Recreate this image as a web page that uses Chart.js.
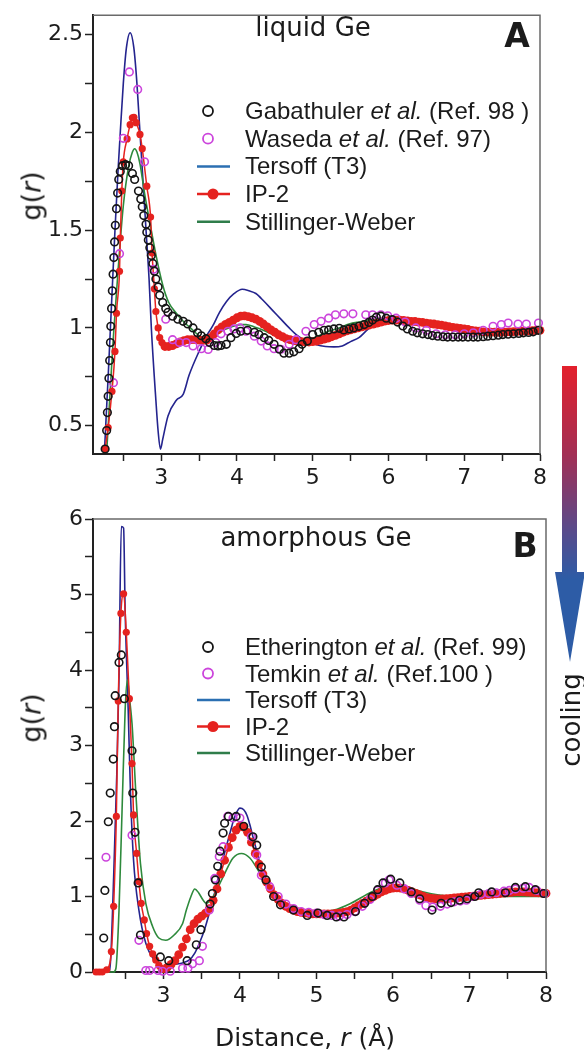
<!DOCTYPE html>
<html><head><meta charset="utf-8">
<script src="https://cdn.jsdelivr.net/npm/chart.js@4.4.1/dist/chart.umd.min.js"></script>
<style>
html,body{margin:0;padding:0;background:#fff;}
#wrap{position:relative;width:584px;height:1055px;overflow:hidden;background:#fff;}
canvas{position:absolute;left:0;}
.t{position:absolute;white-space:nowrap;line-height:1;color:#1b1b1b;}
.c{transform:translate(-50%,-50%);}
.lg{font-family:"Liberation Sans",Arial,sans-serif;font-size:24px;transform:translateY(-50%);}
.dv{font-family:"DejaVu Sans",sans-serif;}
.rot{transform:translate(-50%,-50%) rotate(-90deg);}
.bold{font-weight:bold;}
#arrow{position:absolute;left:555px;top:366px;width:30px;height:296px;
 background:linear-gradient(to bottom,#e3202c 0%,#a22f55 30%,#5a4a8a 55%,#2d5ca6 72%,#2d5ca6 100%);
 clip-path:polygon(7px 0,22px 0,22px 206px,30px 206px,15px 296px,0 206px,7px 206px);}
</style></head>
<body><div id="wrap">
<canvas id="cA" width="584" height="500" style="top:0"></canvas>
<canvas id="cB" width="584" height="555" style="top:500px"></canvas>
<div class="t dv c" style="left:313px;top:27px;font-size:26px">liquid Ge</div>
<div class="t dv c bold" style="left:517px;top:35px;font-size:33px">A</div>
<div class="t dv c" style="left:316px;top:537px;font-size:26px">amorphous Ge</div>
<div class="t dv c bold" style="left:525px;top:545px;font-size:33px">B</div>
<div class="t dv rot" style="left:31px;top:196px;font-size:27px">g(<i>r</i>)</div>
<div class="t dv rot" style="left:31px;top:718px;font-size:27px">g(<i>r</i>)</div>
<div class="t dv c" style="left:305px;top:1037px;font-size:25px">Distance, <i>r</i> (Å)</div>
<div id="arrow"></div>
<div class="t dv rot" style="left:571px;top:720px;font-size:26px">cooling</div>
<div id="legends"></div>
</div>
<script>
// ---------------- DATA ----------------
const xTicks = [2.5,3,3.5,4,4.5,5,5.5,6,6.5,7,7.5,8];
const xTickLabels = ['3','4','5','6','7','8'];
const yTicksA = [0.5,0.75,1,1.25,1.5,1.75,2,2.25,2.5];
const yTickLabelsA = ['0.5','1','1.5','2','2.5'];
const yTicksB = [0,0.5,1,1.5,2,2.5,3,3.5,4,4.5,5,5.5,6];
const yTickLabelsB = ['0','1','2','3','4','5','6'];

// Panel A: liquid Ge
const gabX = [2.26,2.28,2.29,2.30,2.31,2.32,2.33,2.335,2.345,2.355,2.365,2.375,2.385,2.395,2.41,2.425,2.44,2.46,2.49,2.53,2.57,2.62,2.65,2.70,2.73,2.75,2.77,2.80,2.81,2.83,2.85,2.87,2.89,2.91,2.93,2.96,2.98,3.02,3.06,3.09,3.15,3.22,3.29,3.35,3.42,3.48,3.53,3.59,3.64,3.70,3.75,3.79,3.86,3.92,3.99,4.05,4.14,4.23,4.29,4.36,4.42,4.49,4.56,4.62,4.69,4.75,4.82,4.86,4.93,5.00,5.08,5.15,5.21,5.28,5.35,5.41,5.48,5.54,5.61,5.68,5.74,5.79,5.84,5.90,5.97,6.05,6.12,6.19,6.25,6.32,6.38,6.45,6.52,6.58,6.65,6.72,6.78,6.85,6.92,6.98,7.05,7.12,7.18,7.25,7.31,7.38,7.45,7.51,7.58,7.65,7.72,7.78,7.85,7.91,7.98];
const gabY = [0.38,0.475,0.567,0.65,0.742,0.833,0.925,1.008,1.10,1.19,1.275,1.36,1.44,1.525,1.61,1.69,1.76,1.80,1.83,1.835,1.83,1.79,1.76,1.70,1.66,1.62,1.575,1.53,1.49,1.45,1.41,1.37,1.33,1.29,1.25,1.21,1.167,1.13,1.10,1.08,1.06,1.045,1.034,1.02,1.0,0.975,0.96,0.945,0.925,0.91,0.908,0.91,0.916,0.95,0.972,0.983,0.988,0.978,0.966,0.95,0.936,0.916,0.891,0.871,0.871,0.878,0.894,0.916,0.933,0.966,0.978,0.988,0.99,0.995,0.998,0.99,0.995,1.0,1.008,1.017,1.028,1.04,1.055,1.06,1.05,1.042,1.03,1.01,0.995,0.983,0.975,0.97,0.966,0.961,0.958,0.955,0.953,0.953,0.953,0.953,0.953,0.953,0.953,0.955,0.958,0.96,0.963,0.966,0.968,0.97,0.972,0.975,0.977,0.98,0.988];

const wasX = [2.37,2.45,2.50,2.58,2.69,2.78,2.90,3.06,3.15,3.24,3.33,3.42,3.53,3.62,3.72,3.79,3.88,3.96,4.04,4.12,4.23,4.32,4.40,4.49,4.58,4.69,4.78,4.91,5.02,5.11,5.21,5.30,5.41,5.53,5.70,5.79,5.90,5.99,6.10,6.22,6.36,6.50,6.63,6.75,6.88,7.00,7.12,7.25,7.38,7.49,7.58,7.71,7.82,7.98];
const wasY = [0.72,1.38,1.97,2.31,2.22,1.85,1.30,1.045,0.94,0.925,0.925,0.908,0.894,0.89,0.925,0.97,0.983,0.995,1.0,0.983,0.958,0.933,0.908,0.894,0.891,0.916,0.94,0.983,1.017,1.034,1.05,1.067,1.072,1.072,1.067,1.067,1.067,1.062,1.05,1.03,1.0,0.988,0.97,0.965,0.965,0.97,0.975,0.988,1.008,1.017,1.025,1.02,1.02,1.025];

const terAX = [2.25,2.30,2.33,2.36,2.39,2.43,2.46,2.50,2.54,2.59,2.64,2.68,2.72,2.76,2.80,2.84,2.87,2.93,2.96,2.99,3.02,3.09,3.20,3.29,3.37,3.50,3.60,3.68,3.77,3.86,3.96,4.07,4.16,4.25,4.36,4.47,4.58,4.69,4.80,4.91,5.04,5.17,5.28,5.39,5.50,5.61,5.72,5.83,5.95,6.10,6.30,6.50,6.70,6.90,7.10,7.30,7.50,7.70,8.00];
const terAY = [0.36,0.75,1.0,1.25,1.5,1.8,2.0,2.25,2.43,2.51,2.43,2.25,2.0,1.75,1.5,1.25,1.0,0.63,0.47,0.38,0.43,0.55,0.63,0.66,0.76,0.88,0.96,1.01,1.08,1.134,1.175,1.198,1.19,1.176,1.135,1.09,1.045,1.0,0.96,0.933,0.915,0.905,0.903,0.908,0.93,0.95,0.99,1.025,1.04,1.04,1.03,1.015,1.0,0.99,0.985,0.985,0.99,0.995,1.0];

const swAX = [2.28,2.33,2.37,2.43,2.50,2.57,2.62,2.65,2.68,2.72,2.78,2.85,2.93,3.02,3.10,3.20,3.30,3.40,3.50,3.55,3.63,3.72,3.83,3.94,4.05,4.12,4.23,4.34,4.45,4.56,4.65,4.73,4.84,4.95,5.08,5.21,5.35,5.48,5.61,5.79,5.95,6.10,6.30,6.50,6.70,6.90,7.10,7.30,7.50,7.70,8.00];
const swAY = [0.36,0.70,0.96,1.29,1.625,1.825,1.90,1.917,1.90,1.84,1.69,1.54,1.375,1.22,1.13,1.075,1.03,0.995,0.96,0.95,0.955,0.966,0.99,1.008,1.017,1.017,1.005,0.99,0.97,0.95,0.94,0.933,0.935,0.94,0.96,0.983,1.0,1.02,1.03,1.04,1.045,1.04,1.03,1.02,1.01,1.0,0.99,0.985,0.985,0.99,0.995];

// IP-2 sample positions of the dense band (both panels)
const ipBandX = [3.05,3.10,3.15,3.20,3.25,3.30,3.35,3.40,3.45,3.50,3.55,3.60,3.65,3.70,3.75,3.80,3.85,3.90,3.95,4.00,4.05,4.10,4.15,4.20,4.25,4.30,4.35,4.40,4.45,4.50,4.55,4.60,4.65,4.70,4.75,4.80,4.85,4.90,4.95,5.00,5.05,5.10,5.15,5.20,5.25,5.30,5.35,5.40,5.45,5.50,5.55,5.60,5.65,5.70,5.75,5.80,5.85,5.90,5.95,6.00,6.05,6.10,6.15,6.20,6.25,6.30,6.35,6.40,6.45,6.50,6.55,6.60,6.65,6.70,6.75,6.80,6.85,6.90,6.95,7.00,7.05,7.10,7.15,7.20,7.25,7.30,7.35,7.40,7.45,7.50,7.55,7.60,7.65,7.70,7.75,7.80,7.85,7.90,7.95,8.00];

const ipAPeakX = [2.26,2.30,2.35,2.39,2.41,2.45,2.46,2.48,2.50,2.55,2.59,2.62,2.64,2.67,2.72,2.75,2.81,2.86,2.88,2.91,2.93,2.96,2.98,3.01];
const ipAPeakY = [0.383,0.49,0.675,0.88,1.075,1.29,1.46,1.70,1.85,1.967,2.04,2.075,2.078,2.05,1.99,1.917,1.725,1.567,1.383,1.20,1.084,1.0,0.95,0.925];
const ipABandY = [0.905,0.905,0.91,0.918,0.928,0.935,0.94,0.94,0.94,0.938,0.936,0.937,0.95,0.97,0.99,1.005,1.018,1.028,1.04,1.052,1.06,1.062,1.058,1.052,1.045,1.033,1.02,1.005,0.99,0.978,0.965,0.955,0.945,0.94,0.935,0.932,0.93,0.928,0.928,0.93,0.933,0.938,0.943,0.948,0.955,0.962,0.97,0.978,0.985,0.99,0.995,1.0,1.005,1.01,1.015,1.02,1.025,1.03,1.035,1.038,1.04,1.04,1.04,1.038,1.036,1.034,1.033,1.03,1.028,1.025,1.022,1.02,1.017,1.014,1.01,1.006,1.003,1.0,0.997,0.995,0.992,0.988,0.985,0.983,0.98,0.979,0.978,0.978,0.978,0.978,0.979,0.98,0.981,0.982,0.983,0.984,0.985,0.986,0.987,0.988];

// Panel B: amorphous Ge
const ethX = [2.22,2.235,2.28,2.305,2.345,2.36,2.37,2.42,2.45,2.49,2.59,2.60,2.63,2.67,2.70,2.96,3.07,3.31,3.43,3.49,3.61,3.64,3.68,3.71,3.74,3.78,3.80,3.85,3.95,4.05,4.17,4.22,4.28,4.34,4.44,4.53,4.70,4.88,5.02,5.14,5.26,5.36,5.51,5.63,5.73,5.80,5.87,5.97,6.09,6.24,6.35,6.51,6.63,6.76,6.87,6.97,7.07,7.12,7.29,7.47,7.60,7.73,7.86,7.97];
const ethY = [0.45,1.08,1.99,2.37,2.82,3.25,3.66,4.10,4.20,3.62,2.93,2.37,1.85,1.18,0.49,0.20,0.15,0.15,0.36,0.56,0.90,1.04,1.22,1.40,1.60,1.84,1.97,2.06,2.06,1.93,1.79,1.68,1.39,1.22,1.00,0.89,0.82,0.75,0.78,0.75,0.73,0.73,0.80,0.91,1.00,1.09,1.18,1.23,1.18,1.06,0.97,0.82,0.91,0.92,0.95,0.97,1.00,1.05,1.06,1.05,1.12,1.13,1.09,1.04];

const temX = [2.25,2.59,2.68,2.77,2.82,2.93,2.99,3.09,3.25,3.32,3.38,3.47,3.51,3.60,3.67,3.73,3.78,3.84,3.91,4.00,4.15,4.22,4.28,4.39,4.50,4.60,4.70,4.80,4.90,5.00,5.10,5.20,5.30,5.40,5.50,5.60,5.70,5.80,5.90,5.95,6.05,6.15,6.24,6.35,6.43,6.52,6.62,6.71,6.80,6.88,6.96,7.05,7.15,7.25,7.35,7.45,7.52,7.60,7.70,7.78,7.88,7.98];
const temY = [1.52,1.81,0.42,0.02,0.02,0.02,0.01,0.01,0.05,0.05,0.11,0.15,0.34,0.82,1.24,1.53,1.66,2.06,2.04,2.04,1.79,1.55,1.28,1.13,1.00,0.90,0.84,0.80,0.79,0.78,0.76,0.75,0.74,0.76,0.80,0.87,0.96,1.08,1.18,1.22,1.15,1.10,1.04,0.95,0.88,0.86,0.87,0.90,0.93,0.94,0.95,1.00,1.03,1.04,1.05,1.07,1.08,1.10,1.11,1.12,1.08,1.04];

const terBX = [2.08,2.28,2.31,2.35,2.39,2.42,2.45,2.48,2.50,2.54,2.57,2.61,2.68,2.77,2.88,2.99,3.14,3.25,3.34,3.41,3.47,3.54,3.60,3.67,3.73,3.80,3.87,3.93,4.00,4.05,4.09,4.13,4.17,4.22,4.26,4.33,4.39,4.48,4.57,4.68,4.79,4.95,5.10,5.25,5.36,5.47,5.58,5.72,5.85,5.97,6.07,6.17,6.30,6.45,6.60,6.75,6.90,7.10,7.30,7.50,7.70,7.90,8.00];
const terBY = [0.0,0.0,0.16,1.26,2.59,3.91,5.90,5.88,4.79,3.47,2.37,1.48,0.82,0.38,0.16,0.07,0.10,0.12,0.16,0.25,0.38,0.57,0.78,1.05,1.31,1.58,1.84,2.05,2.17,2.15,2.08,1.95,1.79,1.60,1.44,1.26,1.13,1.00,0.91,0.85,0.80,0.77,0.755,0.76,0.78,0.84,0.91,1.00,1.08,1.13,1.15,1.12,1.05,0.98,0.95,0.96,0.99,1.02,1.05,1.06,1.07,1.05,1.04];

const swBX = [2.08,2.35,2.38,2.42,2.46,2.50,2.53,2.56,2.59,2.64,2.70,2.77,2.86,2.94,3.03,3.14,3.25,3.30,3.36,3.41,3.46,3.52,3.56,3.65,3.78,3.91,4.02,4.13,4.26,4.39,4.57,4.79,5.01,5.23,5.45,5.72,5.90,6.05,6.20,6.40,6.60,6.80,7.00,7.30,7.60,8.00];
const swBY = [0.0,0.0,0.05,0.82,2.15,3.47,3.87,3.60,3.29,2.37,1.44,0.91,0.60,0.45,0.42,0.49,0.64,0.82,1.00,1.10,1.05,0.95,0.91,1.00,1.26,1.51,1.57,1.51,1.31,1.09,0.91,0.82,0.80,0.82,0.91,1.06,1.13,1.15,1.12,1.06,1.02,1.00,0.995,1.00,1.00,1.00];

const ipBPeakX = [2.12,2.16,2.20,2.26,2.32,2.35,2.385,2.41,2.445,2.48,2.515,2.555,2.59,2.61,2.65,2.68,2.71,2.75,2.78,2.82,2.86,2.90,2.94,2.97,3.00];
const ipBPeakY = [0.0,0.0,0.0,0.03,0.27,0.87,2.06,3.59,4.75,5.01,4.50,3.62,2.76,2.08,1.57,1.20,0.91,0.69,0.51,0.34,0.24,0.16,0.09,0.05,0.035];
const ipBBandY = [0.06,0.10,0.15,0.23,0.33,0.44,0.56,0.64,0.70,0.74,0.78,0.84,0.95,1.10,1.30,1.48,1.65,1.78,1.88,1.93,1.92,1.85,1.72,1.57,1.43,1.30,1.19,1.10,1.02,0.96,0.91,0.87,0.84,0.82,0.80,0.79,0.78,0.775,0.77,0.77,0.77,0.77,0.77,0.77,0.775,0.78,0.79,0.80,0.82,0.85,0.88,0.91,0.94,0.97,1.00,1.03,1.06,1.08,1.10,1.11,1.115,1.11,1.10,1.08,1.06,1.04,1.02,1.00,0.985,0.975,0.97,0.968,0.968,0.97,0.975,0.98,0.985,0.99,0.995,1.00,1.005,1.01,1.015,1.02,1.025,1.03,1.035,1.04,1.045,1.05,1.055,1.06,1.06,1.06,1.058,1.055,1.052,1.05,1.045,1.04];

// Legend entries
const legendNamesA = [[['Gabathuler ',0],['et al.',1],[' (Ref. 98 )',0]],[['Waseda ',0],['et al.',1],[' (Ref. 97)',0]],[['Tersoff (T3)',0]],[['IP-2',0]],[['Stillinger-Weber',0]]];
const legendNamesB = [[['Etherington ',0],['et al.',1],[' (Ref. 99)',0]],[['Temkin ',0],['et al.',1],[' (Ref.100 )',0]],[['Tersoff (T3)',0]],[['IP-2',0]],[['Stillinger-Weber',0]]];
const legendKinds = ['circle','circle','line','lineDot','line'];

// ---------------- STYLE ----------------
const COL = {exp1:'#151515', exp2:'#cc45dc', ter:'#24248e', terLeg:'#2b6fb2', ip:'#e5221f', sw:'#2e8a3c', swLeg:'#2f7d4a'};
const legendColors = [COL.exp1, COL.exp2, COL.terLeg, COL.ip, COL.swLeg];
const legendRowsA = [111,138.7,166.4,194,221.8];
const legendRowsB = [647,673.5,700,726.5,753];

function pts(xs, ys){ const n=Math.min(xs.length, ys.length); const out=[]; for(let i=0;i<n;i++) out.push({x:xs[i], y:ys[i]}); return out; }

// HTML legend text
const lgHost = document.getElementById('legends');
function addLegend(names, rows){
  names.forEach((segs,i)=>{
    const d=document.createElement('div');
    d.className='t lg';
    d.style.left='245px'; d.style.top=rows[i]+'px';
    segs.forEach(([txt,it])=>{ const s=document.createElement(it?'i':'span'); s.textContent=txt; d.appendChild(s); });
    lgHost.appendChild(d);
  });
}
addLegend(legendNamesA, legendRowsA);
addLegend(legendNamesB, legendRowsB);

const decor = {
  id:'decor',
  afterDraw(chart, args, o){
    const ctx=chart.ctx, a=chart.chartArea;
    ctx.save();
    ctx.strokeStyle='#6a6a6a'; ctx.lineWidth=1.5;
    ctx.beginPath(); ctx.moveTo(a.left, a.top); ctx.lineTo(a.right, a.top); ctx.lineTo(a.right, a.bottom); ctx.stroke();
    o.rows.forEach((yy,i)=>{
      const y = yy - o.offset, k = legendKinds[i], c = legendColors[i];
      ctx.strokeStyle=c; ctx.fillStyle=c;
      if(k==='circle'){ ctx.lineWidth=1.8; ctx.beginPath(); ctx.arc(208,y,5,0,Math.PI*2); ctx.stroke(); }
      else { ctx.lineWidth=2.5; ctx.beginPath(); ctx.moveTo(197,y); ctx.lineTo(230,y); ctx.stroke();
        if(k==='lineDot'){ ctx.beginPath(); ctx.arc(213,y,5.5,0,Math.PI*2); ctx.fill(); } }
    });
    ctx.restore();
  }
};

function makeChart(id, cfg){
  const tickFont = {family:'DejaVu Sans', size:22};
  const nPeak = cfg.nPeak;
  return new Chart(document.getElementById(id), {
    type:'scatter',
    data:{datasets:[
      {data:pts(cfg.e1x,cfg.e1y), showLine:false, pointRadius:3.8, pointBorderWidth:1.6, pointBorderColor:COL.exp1, pointBackgroundColor:'rgba(0,0,0,0)'},
      {data:pts(cfg.e2x,cfg.e2y), showLine:false, pointRadius:3.8, pointBorderWidth:1.6, pointBorderColor:COL.exp2, pointBackgroundColor:'rgba(0,0,0,0)'},
      {data:cfg.ip, showLine:true, borderColor:COL.ip, borderWidth:1.5,
        pointRadius:c=> c.dataIndex >= nPeak ? 4.4 : 3.6,
        pointBorderWidth:0, pointBackgroundColor:COL.ip, cubicInterpolationMode:'monotone'},
      {data:pts(cfg.swx,cfg.swy), showLine:true, borderColor:COL.sw, borderWidth:1.6, pointRadius:0, cubicInterpolationMode:'monotone'},
      {data:pts(cfg.tx,cfg.ty), showLine:true, borderColor:COL.ter, borderWidth:1.6, pointRadius:0, cubicInterpolationMode:'monotone'}
    ]},
    options:{
      responsive:false, animation:false, devicePixelRatio:1, events:[],
      clip:false,
      layout:{padding:cfg.pad},
      plugins:{legend:{display:false}, tooltip:{enabled:false}, decor:{rows:cfg.rows, offset:cfg.offset}},
      scales:{
        x:{type:'linear', min:cfg.xmin, max:8,
          afterBuildTicks:s=>{ s.ticks = xTicks.map(v=>({value:v})); },
          afterFit:s=>{ s.height = cfg.xh; },
          ticks:{autoSkip:false, maxRotation:0, padding:4, font:tickFont, color:'#1b1b1b',
            callback:v=> xTickLabels.includes(String(v)) ? String(v) : ''},
          grid:{display:true, drawOnChartArea:false, drawTicks:true, tickLength:7, tickColor:'#222', tickWidth:1.5},
          border:{display:true, color:'#222', width:2}
        },
        y:{type:'linear', min:cfg.ymin, max:cfg.ymax,
          afterBuildTicks:s=>{ s.ticks = cfg.yt.map(v=>({value:v})); },
          afterFit:s=>{ s.width = 93; },
          ticks:{autoSkip:false, padding:2, font:tickFont, color:'#1b1b1b',
            callback:v=> cfg.yl.includes(String(v)) ? String(v) : ''},
          grid:{display:true, drawOnChartArea:false, drawTicks:true, tickLength:8, tickColor:'#222', tickWidth:1.5},
          border:{display:true, color:'#222', width:2}
        }
      }
    },
    plugins:[decor]
  });
}

makeChart('cA', {
  e1x:gabX, e1y:gabY, e2x:wasX, e2y:wasY,
  ip: pts(ipAPeakX, ipAPeakY).concat(pts(ipBandX, ipABandY)), nPeak: ipAPeakX.length,
  swx:swAX, swy:swAY, tx:terAX, ty:terAY,
  xmin:2.1, ymin:0.355, ymax:2.6, yt:yTicksA, yl:yTickLabelsA,
  pad:{left:0, top:6, right:44, bottom:0}, xh:46, rows:legendRowsA, offset:0
});
makeChart('cB', {
  e1x:ethX, e1y:ethY, e2x:temX, e2y:temY,
  ip: pts(ipBPeakX, ipBPeakY).concat(pts(ipBandX, ipBBandY)), nPeak: ipBPeakX.length,
  swx:swBX, swy:swBY, tx:terBX, ty:terBY,
  xmin:2.08, ymin:0, ymax:6, yt:yTicksB, yl:yTickLabelsB,
  pad:{left:0, top:19, right:38, bottom:0}, xh:83, rows:legendRowsB, offset:500
});
</script>
</body></html>
